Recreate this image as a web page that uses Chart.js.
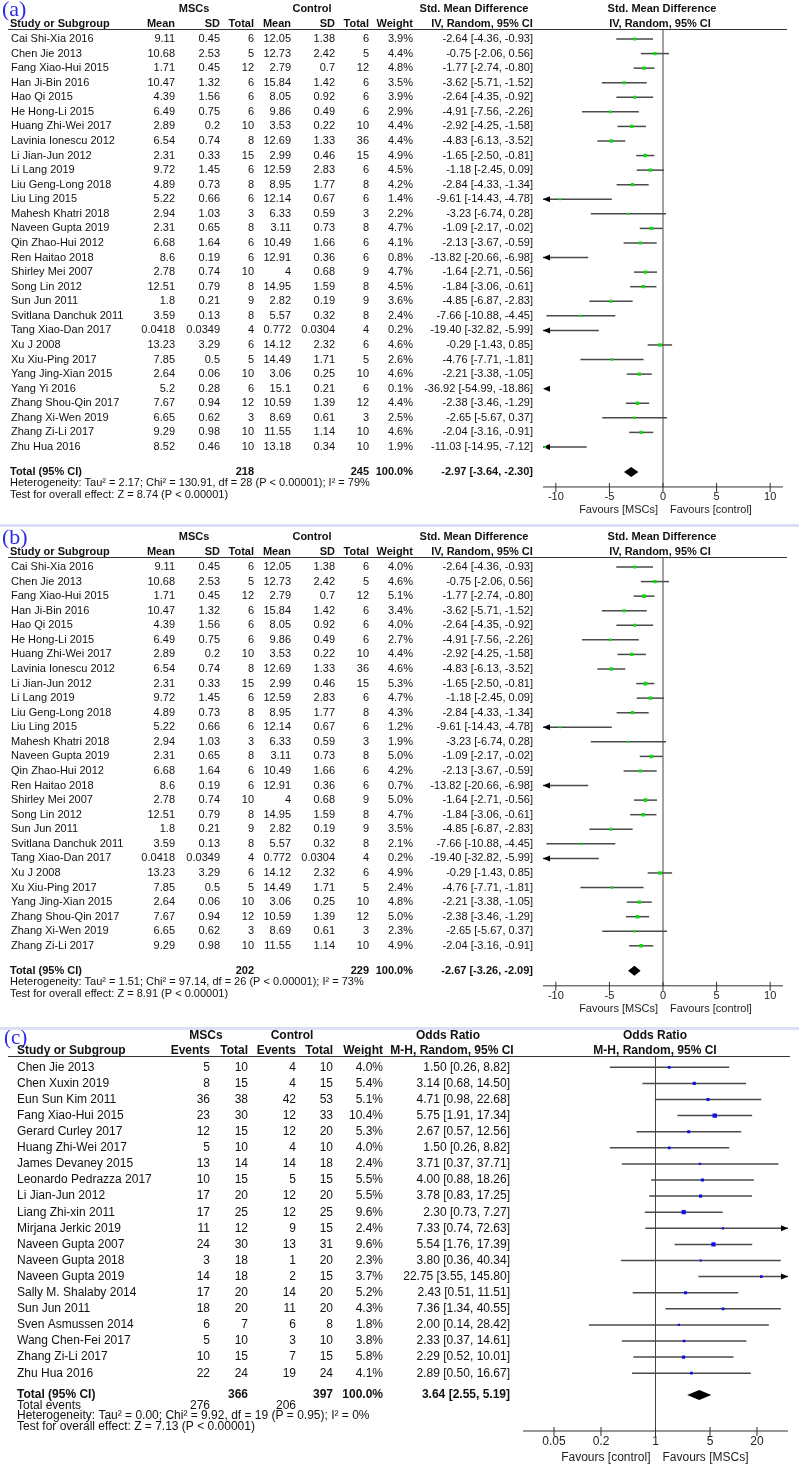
<!DOCTYPE html>
<html lang="en">
<head>
  <meta charset="UTF-8">
  <title>Forest plots</title>
  <script src="https://cdn.jsdelivr.net/npm/chart.js"></script>
  <style>
    body {
      margin: 0;
      background-color: #fff;
    }
    #page {
      position: relative;
      width: 799px;
      height: 1465px;
      overflow: hidden;
    }
    canvas {
      position: absolute;
      left: 0;
    }
    .sep {
      position: absolute;
      left: 0;
      width: 799px;
      height: 3px;
      background-color: #dcdff6;
    }
  </style>
</head>
<body>
  <div id="page">
    <div class="sep" style="top:524px"></div>
    <div class="sep" style="top:1027px"></div>
    <canvas id="chartA" width="799" height="524" style="top:0px"></canvas>
    <canvas id="chartB" width="799" height="499" style="top:528px"></canvas>
    <canvas id="chartC" width="799" height="435" style="top:1030px"></canvas>
  </div>

  <script>
    // ---- (a) Std. Mean Difference, all studies ----
    const studiesA = ["Cai Shi-Xia 2016", "Chen Jie 2013", "Fang Xiao-Hui 2015", "Han Ji-Bin 2016", "Hao Qi 2015",
      "He Hong-Li 2015", "Huang Zhi-Wei 2017", "Lavinia Ionescu 2012", "Li Jian-Jun 2012", "Li Lang 2019",
      "Liu Geng-Long 2018", "Liu Ling 2015", "Mahesh Khatri 2018", "Naveen Gupta 2019", "Qin Zhao-Hui 2012",
      "Ren Haitao 2018", "Shirley Mei 2007", "Song Lin 2012", "Sun Jun 2011", "Svitlana Danchuk 2011",
      "Tang Xiao-Dan 2017", "Xu J 2008", "Xu Xiu-Ping 2017", "Yang Jing-Xian 2015", "Yang Yi 2016",
      "Zhang Shou-Qin 2017", "Zhang Xi-Wen 2019", "Zhang Zi-Li 2017", "Zhu Hua 2016"];
    const mscMeanA = [9.11, 10.68, 1.71, 10.47, 4.39, 6.49, 2.89, 6.54, 2.31, 9.72, 4.89, 5.22, 2.94, 2.31, 6.68,
      8.6, 2.78, 12.51, 1.8, 3.59, 0.0418, 13.23, 7.85, 2.64, 5.2, 7.67, 6.65, 9.29, 8.52];
    const mscSdA = [0.45, 2.53, 0.45, 1.32, 1.56, 0.75, 0.2, 0.74, 0.33, 1.45, 0.73, 0.66, 1.03, 0.65, 1.64,
      0.19, 0.74, 0.79, 0.21, 0.13, 0.0349, 3.29, 0.5, 0.06, 0.28, 0.94, 0.62, 0.98, 0.46];
    const mscTotalA = [6, 5, 12, 6, 6, 6, 10, 8, 15, 6, 8, 6, 3, 8, 6, 6, 10, 8, 9, 8, 4, 6, 5, 10, 6, 12, 3, 10, 10];
    const ctlMeanA = [12.05, 12.73, 2.79, 15.84, 8.05, 9.86, 3.53, 12.69, 2.99, 12.59, 8.95, 12.14, 6.33, 3.11, 10.49,
      12.91, 4, 14.95, 2.82, 5.57, 0.772, 14.12, 14.49, 3.06, 15.1, 10.59, 8.69, 11.55, 13.18];
    const ctlSdA = [1.38, 2.42, 0.7, 1.42, 0.92, 0.49, 0.22, 1.33, 0.46, 2.83, 1.77, 0.67, 0.59, 0.73, 1.66,
      0.36, 0.68, 1.59, 0.19, 0.32, 0.0304, 2.32, 1.71, 0.25, 0.21, 1.39, 0.61, 1.14, 0.34];
    const ctlTotalA = [6, 5, 12, 6, 6, 6, 10, 36, 15, 6, 8, 6, 3, 8, 6, 6, 9, 8, 9, 8, 4, 6, 5, 10, 6, 12, 3, 10, 10];
    const weightA = [3.9, 4.4, 4.8, 3.5, 3.9, 2.9, 4.4, 4.4, 4.9, 4.5, 4.2, 1.4, 2.2, 4.7, 4.1,
      0.8, 4.7, 4.5, 3.6, 2.4, 0.2, 4.6, 2.6, 4.6, 0.1, 4.4, 2.5, 4.6, 1.9];
    const smdA = [-2.64, -0.75, -1.77, -3.62, -2.64, -4.91, -2.92, -4.83, -1.65, -1.18, -2.84, -9.61, -3.23, -1.09, -2.13,
      -13.82, -1.64, -1.84, -4.85, -7.66, -19.40, -0.29, -4.76, -2.21, -36.92, -2.38, -2.65, -2.04, -11.03];
    const smdLowA = [-4.36, -2.06, -2.74, -5.71, -4.35, -7.56, -4.25, -6.13, -2.50, -2.45, -4.33, -14.43, -6.74, -2.17, -3.67,
      -20.66, -2.71, -3.06, -6.87, -10.88, -32.82, -1.43, -7.71, -3.38, -54.99, -3.46, -5.67, -3.16, -14.95];
    const smdHighA = [-0.93, 0.56, -0.80, -1.52, -0.92, -2.26, -1.58, -3.52, -0.81, 0.09, -1.34, -4.78, 0.28, -0.02, -0.59,
      -6.98, -0.56, -0.61, -2.83, -4.45, -5.99, 0.85, -1.81, -1.05, -18.86, -1.29, 0.37, -0.91, -7.12];
    const totalsA = [218, 245];
    const pooledA = [-2.97, -3.64, -2.30];
    const hetA = "Heterogeneity: Tau² = 2.17; Chi² = 130.91, df = 28 (P < 0.00001); I² = 79%";
    const testA = "Test for overall effect: Z = 8.74 (P < 0.00001)";

    // ---- (b) same studies without two of them, re-weighted ----
    const droppedB = ["Yang Yi 2016", "Zhu Hua 2016"];
    const weightB = [4.0, 4.6, 5.1, 3.4, 4.0, 2.7, 4.4, 4.6, 5.3, 4.7, 4.3, 1.2, 1.9, 5.0, 4.2,
      0.7, 5.0, 4.7, 3.5, 2.1, 0.2, 4.9, 2.4, 4.8, 5.0, 2.3, 4.9];
    const totalsB = [202, 229];
    const pooledB = [-2.67, -3.26, -2.09];
    const hetB = "Heterogeneity: Tau² = 1.51; Chi² = 97.14, df = 26 (P < 0.00001); I² = 73%";
    const testB = "Test for overall effect: Z = 8.91 (P < 0.00001)";

    // ---- (c) Odds Ratio ----
    const studiesC = ["Chen Jie 2013", "Chen Xuxin 2019", "Eun Sun Kim 2011", "Fang Xiao-Hui 2015", "Gerard Curley 2017",
      "Huang Zhi-Wei 2017", "James Devaney 2015", "Leonardo Pedrazza 2017", "Li Jian-Jun 2012", "Liang Zhi-xin 2011",
      "Mirjana Jerkic 2019", "Naveen Gupta 2007", "Naveen Gupta 2018", "Naveen Gupta 2019", "Sally M. Shalaby 2014",
      "Sun Jun 2011", "Sven Asmussen 2014", "Wang Chen-Fei 2017", "Zhang Zi-Li 2017", "Zhu Hua 2016"];
    const mscEventsC = [5, 8, 36, 23, 12, 5, 13, 10, 17, 17, 11, 24, 3, 14, 17, 18, 6, 5, 10, 22];
    const mscTotalC = [10, 15, 38, 30, 15, 10, 14, 15, 20, 25, 12, 30, 18, 18, 20, 20, 7, 10, 15, 24];
    const ctlEventsC = [4, 4, 42, 12, 12, 4, 14, 5, 12, 12, 9, 13, 1, 2, 14, 11, 6, 3, 7, 19];
    const ctlTotalC = [10, 15, 53, 33, 20, 10, 18, 15, 20, 25, 15, 31, 20, 15, 20, 20, 8, 10, 15, 24];
    const weightC = [4.0, 5.4, 5.1, 10.4, 5.3, 4.0, 2.4, 5.5, 5.5, 9.6, 2.4, 9.6, 2.3, 3.7, 5.2, 4.3, 1.8, 3.8, 5.8, 4.1];
    const orC = [1.50, 3.14, 4.71, 5.75, 2.67, 1.50, 3.71, 4.00, 3.78, 2.30, 7.33, 5.54, 3.80, 22.75, 2.43, 7.36, 2.00, 2.33, 2.29, 2.89];
    const orLowC = [0.26, 0.68, 0.98, 1.91, 0.57, 0.26, 0.37, 0.88, 0.83, 0.73, 0.74, 1.76, 0.36, 3.55, 0.51, 1.34, 0.14, 0.37, 0.52, 0.50];
    const orHighC = [8.82, 14.50, 22.68, 17.34, 12.56, 8.82, 37.71, 18.26, 17.25, 7.27, 72.63, 17.39, 40.34, 145.80, 11.51, 40.55, 28.42, 14.61, 10.01, 16.67];
    const totalsC = [366, 397];
    const eventsC = [276, 206];
    const pooledC = [3.64, 2.55, 5.19];
    const hetC = "Heterogeneity: Tau² = 0.00; Chi² = 9.92, df = 19 (P = 0.95); I² = 0%";
    const testC = "Test for overall effect: Z = 7.13 (P < 0.00001)";

    const smdTicks = [-10, -5, 0, 5, 10];
    const orTicks = [0.05, 0.2, 1, 5, 20];

    const FONT = '"Liberation Sans", Arial, sans-serif';

    function ciText(est, lo, hi) {
      return `${est.toFixed(2)} [${lo.toFixed(2)}, ${hi.toFixed(2)}]`;
    }

    // rows for (a) and (b)
    const rowsA = studiesA.map((s, i) => [s, String(mscMeanA[i]), String(mscSdA[i]), String(mscTotalA[i]),
      String(ctlMeanA[i]), String(ctlSdA[i]), String(ctlTotalA[i]), weightA[i].toFixed(1) + "%",
      ciText(smdA[i], smdLowA[i], smdHighA[i])]);
    const keepB = studiesA.map((s, i) => droppedB.includes(s) ? -1 : i).filter(i => i >= 0);
    const rowsB = keepB.map((k, j) => rowsA[k].slice(0, 7).concat([weightB[j].toFixed(1) + "%", rowsA[k][8]]));
    const rowsC = studiesC.map((s, i) => [s, String(mscEventsC[i]), String(mscTotalC[i]), String(ctlEventsC[i]),
      String(ctlTotalC[i]), weightC[i].toFixed(1) + "%", ciText(orC[i], orLowC[i], orHighC[i])]);

    function arrowHead(ctx, tipX, py, dir) {
      ctx.beginPath();
      ctx.moveTo(tipX, py);
      ctx.lineTo(tipX - dir * 7, py - 3);
      ctx.lineTo(tipX - dir * 7, py + 3);
      ctx.closePath();
      ctx.fill();
    }

    function forestPlugin(P) {
      return {
        id: "forest" + P.id,
        beforeDatasetsDraw(chart) {
          const ctx = chart.ctx, xs = chart.scales.x, ys = chart.scales.y, a = chart.chartArea;
          const norm = P.fs + "px " + FONT, bold = "bold " + norm;
          ctx.save();
          ctx.textBaseline = "middle";

          // panel letter
          ctx.font = P.letterSize + 'px "Liberation Serif", "DejaVu Serif", serif';
          ctx.fillStyle = "#2a2ae8";
          ctx.textAlign = "left";
          ctx.fillText(P.letter, P.letterX, P.letterY);

          // headers
          ctx.fillStyle = "#111";
          ctx.font = bold;
          P.headers.forEach(([t, x, y, al]) => { ctx.textAlign = al; ctx.fillText(t, x, y); });
          ctx.strokeStyle = "#333";
          ctx.lineWidth = 1.2;
          ctx.beginPath();
          ctx.moveTo(P.lineX0, a.top);
          ctx.lineTo(P.lineX1, a.top);
          ctx.stroke();

          // study rows
          ctx.font = norm;
          P.rows.forEach((cells, i) => {
            const py = ys.getPixelForValue(i);
            cells.forEach((c, j) => {
              ctx.textAlign = j === 0 ? "left" : "right";
              ctx.fillText(c, P.cols[j], py);
            });
          });

          // total row
          ctx.font = bold;
          const ty = ys.getPixelForValue(P.totalRow);
          P.totalCells.forEach((c, j) => {
            if (!c) return;
            ctx.textAlign = j === 0 ? "left" : "right";
            ctx.fillText(c, j === 0 ? P.footX : P.cols[j], ty);
          });

          // footer lines
          ctx.font = norm;
          P.footer.forEach(([cells, yv]) => {
            const py = ys.getPixelForValue(yv);
            cells.forEach((c, j) => {
              if (!c) return;
              ctx.textAlign = j === 0 ? "left" : "right";
              ctx.fillText(c, j === 0 ? P.footX : P.cols[j], py);
            });
          });

          // line of no effect
          const x0 = xs.getPixelForValue(P.nullValue);
          ctx.strokeStyle = "#444";
          ctx.lineWidth = 1;
          ctx.beginPath();
          ctx.moveTo(x0, a.top);
          ctx.lineTo(x0, a.bottom);
          ctx.stroke();

          // axis
          ctx.strokeStyle = "#333";
          ctx.beginPath();
          ctx.moveTo(a.left, a.bottom);
          ctx.lineTo(a.right, a.bottom);
          P.ticks.forEach(t => {
            const px = xs.getPixelForValue(t);
            ctx.moveTo(px, a.bottom - 4);
            ctx.lineTo(px, a.bottom + 5);
          });
          ctx.stroke();
          ctx.fillStyle = "#222";
          ctx.textAlign = "center";
          P.ticks.forEach(t => ctx.fillText(String(t), xs.getPixelForValue(t), a.bottom + P.tickDy));
          ctx.textAlign = "right";
          ctx.fillText(P.favLeft, x0 - 5, a.bottom + P.favDy);
          ctx.textAlign = "left";
          ctx.fillText(P.favRight, x0 + 7, a.bottom + P.favDy);

          // confidence intervals
          ctx.strokeStyle = "#4a4a4a";
          ctx.fillStyle = "#000";
          ctx.lineWidth = 1.5;
          P.low.forEach((lo, i) => {
            const hi = P.high[i], py = ys.getPixelForValue(i);
            const l = Math.max(lo, xs.min), r = Math.min(hi, xs.max);
            if (r > l) {
              ctx.beginPath();
              ctx.moveTo(xs.getPixelForValue(l), py);
              ctx.lineTo(xs.getPixelForValue(r), py);
              ctx.stroke();
            }
            if (lo < xs.min) arrowHead(ctx, a.left, py, -1);
            if (hi > xs.max) arrowHead(ctx, a.right, py, 1);
          });

          // pooled diamond
          const [est, lo, hi] = P.pooled;
          ctx.fillStyle = "#000";
          ctx.beginPath();
          ctx.moveTo(xs.getPixelForValue(lo), ty);
          ctx.lineTo(xs.getPixelForValue(est), ty - 5);
          ctx.lineTo(xs.getPixelForValue(hi), ty);
          ctx.lineTo(xs.getPixelForValue(est), ty + 5);
          ctx.closePath();
          ctx.fill();
          ctx.restore();
        }
      };
    }

    function makeForest(canvasId, P) {
      return new Chart(document.getElementById(canvasId), {
        type: "scatter",
        data: {
          datasets: [{
            data: P.est.map((v, i) => ({ x: v, y: i })),
            pointStyle: "rect",
            pointRadius: P.weight.map(w => (P.sizeA + P.sizeB * w) / 1.414),
            pointBorderWidth: 0,
            backgroundColor: P.pointColor,
            borderColor: P.pointColor
          }]
        },
        options: {
          responsive: false,
          animation: false,
          layout: { padding: P.padding },
          scales: {
            x: { type: P.xType, min: P.xMin, max: P.xMax, display: false },
            y: { type: "linear", min: P.yMin, max: P.yMax, reverse: true, display: false }
          },
          plugins: { legend: { display: false }, tooltip: { enabled: false } }
        },
        plugins: [forestPlugin(P)]
      });
    }

    // (a)/(b) share one layout; rows start 39px down, 14.57px apart
    function smdPanel(id, letter, rows, weight, est, low, high, totals, pooled, het, test, height) {
      const rowY0 = 39, rowH = 14.57;
      const n = rows.length;
      const toIdx = py => (py - rowY0) / rowH;
      const lastY = rowY0 + (n - 1) * rowH;
      const totalY = lastY + 25, axisY = totalY + 15;
      return {
        id, letter, letterX: 2, letterY: 10, letterSize: 22, fs: 11,
        rows, weight, est, low, high, pooled,
        cols: [11, 175, 220, 254, 291, 335, 369, 413, 533],
        headers: [
          ["MSCs", 194, 9, "center"], ["Control", 312, 9, "center"],
          ["Std. Mean Difference", 474, 9, "center"], ["Std. Mean Difference", 662, 9, "center"],
          ["Study or Subgroup", 10, 24, "left"], ["Mean", 175, 24, "right"], ["SD", 220, 24, "right"],
          ["Total", 254, 24, "right"], ["Mean", 291, 24, "right"], ["SD", 335, 24, "right"],
          ["Total", 369, 24, "right"], ["Weight", 413, 24, "right"],
          ["IV, Random, 95% CI", 482, 24, "center"], ["IV, Random, 95% CI", 660, 24, "center"]
        ],
        lineX0: 8, lineX1: 787, footX: 10,
        totalRow: toIdx(totalY),
        totalCells: ["Total (95% CI)", "", "", String(totals[0]), "", "", String(totals[1]), "100.0%",
          ciText(pooled[0], pooled[1], pooled[2])],
        footer: [[[het], toIdx(totalY + 11.5)], [[test], toIdx(totalY + 23.5)]],
        nullValue: 0, ticks: smdTicks, tickDy: 10.5, favDy: 23,
        favLeft: "Favours [MSCs]", favRight: "Favours [control]",
        xType: "linear", xMin: -11.2, xMax: 11.2,
        yMin: toIdx(29.5), yMax: toIdx(axisY),
        padding: { left: 543, right: 16, top: 29.5, bottom: height - axisY },
        pointColor: "#10dd10", sizeA: 1.3, sizeB: 0.45
      };
    }

    makeForest("chartA", smdPanel("A", "(a)", rowsA, weightA, smdA, smdLowA, smdHighA, totalsA, pooledA, hetA, testA, 524));
    makeForest("chartB", smdPanel("B", "(b)", rowsB, weightB,
      keepB.map(k => smdA[k]), keepB.map(k => smdLowA[k]), keepB.map(k => smdHighA[k]),
      totalsB, pooledB, hetB, testB, 499));

    // (c) odds ratio panel, slightly larger type
    (function () {
      const rowY0 = 37.3, rowH = 16.1, height = 435;
      const toIdx = py => (py - rowY0) / rowH;
      const totalY = 365, axisY = 401;
      makeForest("chartC", {
        id: "C", letter: "(c)", letterX: 4, letterY: 8, letterSize: 21, fs: 12,
        rows: rowsC, weight: weightC, est: orC, low: orLowC, high: orHighC, pooled: pooledC,
        cols: [17, 210, 248, 296, 333, 383, 510],
        headers: [
          ["MSCs", 206, 5.5, "center"], ["Control", 292, 5.5, "center"],
          ["Odds Ratio", 448, 5.5, "center"], ["Odds Ratio", 655, 5.5, "center"],
          ["Study or Subgroup", 17, 20.5, "left"], ["Events", 210, 20.5, "right"], ["Total", 248, 20.5, "right"],
          ["Events", 296, 20.5, "right"], ["Total", 333, 20.5, "right"], ["Weight", 383, 20.5, "right"],
          ["M-H, Random, 95% CI", 452, 20.5, "center"], ["M-H, Random, 95% CI", 655, 20.5, "center"]
        ],
        lineX0: 8, lineX1: 790, footX: 17,
        totalRow: toIdx(totalY),
        totalCells: ["Total (95% CI)", "", String(totalsC[0]), "", String(totalsC[1]), "100.0%",
          ciText(pooledC[0], pooledC[1], pooledC[2])],
        footer: [
          [["Total events", String(eventsC[0]), "", String(eventsC[1])], toIdx(totalY + 10.5)],
          [[hetC], toIdx(totalY + 21)],
          [[testC], toIdx(totalY + 31.5)]
        ],
        nullValue: 1, ticks: orTicks, tickDy: 11, favDy: 27,
        favLeft: "Favours [control]", favRight: "Favours [MSCs]",
        xType: "logarithmic", xMin: 0.02, xMax: 50,
        yMin: toIdx(26.5), yMax: toIdx(axisY),
        padding: { left: 523, right: 11, top: 26.5, bottom: height - axisY },
        pointColor: "#1010ee", sizeA: 1.6, sizeB: 0.27
      });
    })();
  </script>
</body>
</html>
